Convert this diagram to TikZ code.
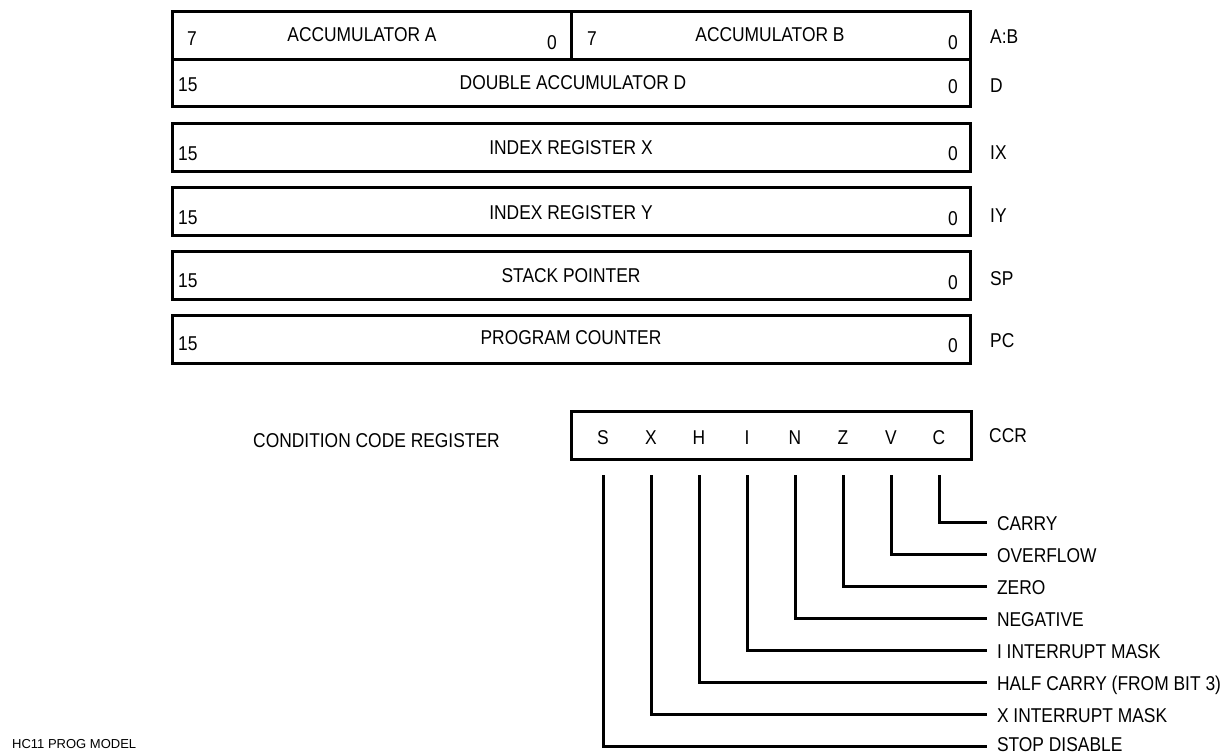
\documentclass[tikz,border=0pt]{standalone}
\usepackage{fontspec}
\setmainfont[FakeStretch=0.87]{Liberation Sans}
\newfontfamily\plainfont{Liberation Sans}
\begin{document}
\begin{tikzpicture}[x=1pt,y=-1pt]
\tikzset{
  box/.style={draw, line width=3pt, line join=miter},
  txt/.style={font=\fontsize{20}{24}\selectfont, inner sep=0pt, anchor=base},
  txtw/.style={txt, anchor=base west},
  lbl/.style={font=\fontsize{20}{24}\selectfont, inner sep=0pt, outer xsep=10pt,
              anchor=west, text height=14.3pt, text depth=0pt},
  wire/.style={line width=3pt, line join=miter},
}
\useasboundingbox (0,0) rectangle (1223,755);

% A:B register
\draw[box] (172,11) rectangle (970,106);
\draw[box] (172,59) -- (970,59);
\draw[box] (571,11) -- (571,59);
\node[txt] (a7) at (192,45) {7};
\node[txt] (aname) at (362,41) {ACCUMULATOR A};
\node[txt] (a0) at (552,49) {0};
\node[txt] (b7) at (592,45) {7};
\node[txt] (bname) at (770,41) {ACCUMULATOR B};
\node[txt] (b0) at (953,49) {0};
\node[txtw] (ab) at (990,43) {A:B};

% D register
\node[txtw] (d15) at (178,91) {15};
\node[txt] (dname) at (573,89) {DOUBLE ACCUMULATOR D};
\node[txt] (d0) at (953,93) {0};
\node[txtw] (dd) at (990,92) {D};

% 16-bit registers
\foreach \n/\top/\yl/\yn/\yz/\yr/\name in {
   ix/123/160/154/160/159/{INDEX REGISTER X},
   iy/187/224/219/225/222/{INDEX REGISTER Y},
   sp/251/287/282/289/285/{STACK POINTER},
   pc/315/350/344/352/347/{PROGRAM COUNTER}}{
  \draw[box] (172,\top) rectangle (970,\top+48);
  \node[txtw] (\n15) at (178,\yl) {15};
  \node[txt] (\n name) at (571,\yn) {\name};
  \node[txt] (\n0) at (953,\yz) {0};
}
\node[txtw] (rix) at (990,159) {IX};
\node[txtw] (riy) at (990,222) {IY};
\node[txtw] (rsp) at (990,285) {SP};
\node[txtw] (rpc) at (990,347) {PC};

% Condition code register
\node[txtw] (ccrname) at (253,447) {CONDITION CODE REGISTER};
\draw[box] (571,411) rectangle (971,459);
\node[txtw] (ccr) at (989,442) {CCR};

\foreach \b/\x/\y/\o/\t in {
   S/603/746/-2/{STOP DISABLE},
   X/651/714/1/{X INTERRUPT MASK},
   H/699/682/1/{HALF CARRY (FROM BIT 3)},
   I/747/650/1/{I INTERRUPT MASK},
   N/795/618/1/{NEGATIVE},
   Z/843/586/1/{ZERO},
   V/891/554/1/{OVERFLOW},
   C/939/522/1/{CARRY}}{
  \node[txt] (bit\b) at (\x,444) {\b};
  \node[lbl] (l\b) at (987,\y+\o) {\t};
  \draw[wire] ([yshift=-31pt]bit\b.base) |- ([yshift=\o pt]l\b.west);
}

\node[font=\plainfont\fontsize{13}{15}\selectfont, inner sep=0pt, anchor=base west]
  (caption) at (12,748.5) {HC11 PROG MODEL};
\end{tikzpicture}
\end{document}
